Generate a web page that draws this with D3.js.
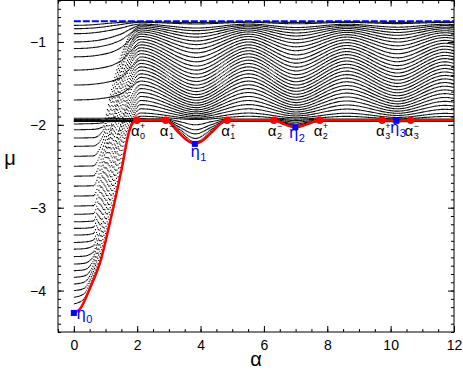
<!DOCTYPE html>
<meta charset="utf-8">
<style>
body { margin: 0; }
svg { font-family: "Liberation Sans", Arial, sans-serif; }
.curve { fill: none; stroke: #000; stroke-width: 1.1; }
.axis text { font-size: 14px; fill: #000; }
.axis line { stroke: #000; }
</style>
<script src="https://d3js.org/d3.v7.min.js"></script>
<svg width="463" height="382"></svg>
<script>

// ---- data ----
var leftAlpha = [0, 0.3, 0.6, 0.9, 1.2, 1.5, 1.8];
var bandAlpha = [2.1, 3.85, 5.5, 7.0, 8.6, 10.2, 11.7, 12];

// curves that start above mu = -2 at alpha = 0
var upperLeft = [
  [-0.80, -0.798, -0.792, -0.782, -0.772, -0.764, -0.759],
  [-0.84, -0.838, -0.832, -0.820, -0.805, -0.788, -0.772],
  [-0.90, -0.898, -0.890, -0.875, -0.855, -0.830, -0.800],
  [-1.00, -0.997, -0.988, -0.970, -0.940, -0.900, -0.840],
  [-1.08, -1.077, -1.068, -1.050, -1.020, -0.970, -0.890],
  [-1.18, -1.177, -1.168, -1.150, -1.120, -1.060, -0.960],
  [-1.34, -1.337, -1.328, -1.310, -1.280, -1.220, -1.100],
  [-1.52, -1.518, -1.510, -1.495, -1.470, -1.420, -1.300],
  [-1.70, -1.698, -1.692, -1.680, -1.660, -1.620, -1.540]
];
var upperBand = [
  [-0.757, -0.767, -0.757, -0.765, -0.757, -0.765, -0.757, -0.758],
  [-0.763, -0.783, -0.763, -0.781, -0.764, -0.779, -0.765, -0.766],
  [-0.784, -0.832, -0.784, -0.826, -0.786, -0.822, -0.787, -0.790],
  [-0.798, -0.864, -0.798, -0.855, -0.800, -0.851, -0.802, -0.807],
  [-0.834, -0.942, -0.834, -0.928, -0.838, -0.920, -0.841, -0.848],
  [-0.879, -1.032, -0.879, -1.012, -0.884, -1.001, -0.889, -0.899],
  [-1.000, -1.240, -1.000, -1.208, -1.008, -1.192, -1.016, -1.032],
  [-1.181, -1.477, -1.181, -1.438, -1.191, -1.418, -1.201, -1.221],
  [-1.472, -1.736, -1.472, -1.700, -1.481, -1.683, -1.490, -1.507]
];

// curves that start below mu = -2 at alpha = 0
var lowerLeft = [
  [-1.99, -1.988, -1.985, -1.975, -1.535, -1.136, -0.895],
  [-2.06, -2.058, -2.055, -2.025, -1.602, -1.187, -0.939],
  [-2.16, -2.158, -2.155, -2.075, -1.673, -1.246, -0.992],
  [-2.26, -2.258, -2.255, -2.135, -1.741, -1.293, -1.023],
  [-2.38, -2.378, -2.375, -2.200, -1.813, -1.343, -1.060],
  [-2.50, -2.498, -2.495, -2.275, -1.892, -1.416, -1.130],
  [-2.62, -2.618, -2.615, -2.350, -1.955, -1.470, -1.170],
  [-2.74, -2.738, -2.735, -2.425, -1.980, -1.526, -1.212],
  [-2.86, -2.858, -2.855, -2.495, -2.010, -1.586, -1.254],
  [-2.98, -2.978, -2.975, -2.570, -2.045, -1.663, -1.331],
  [-3.08, -3.078, -3.070, -2.635, -2.105, -1.726, -1.377],
  [-3.17, -3.168, -3.160, -2.700, -2.165, -1.792, -1.424],
  [-3.25, -3.248, -3.235, -2.775, -2.235, -1.860, -1.472],
  [-3.33, -3.328, -3.310, -2.845, -2.315, -1.945, -1.522],
  [-3.42, -3.415, -3.390, -2.915, -2.390, -1.965, -1.573],
  [-3.50, -3.495, -3.460, -2.985, -2.460, -1.995, -1.656],
  [-3.59, -3.585, -3.535, -3.050, -2.530, -2.025, -1.708],
  [-3.68, -3.672, -3.590, -3.120, -2.600, -2.075, -1.761],
  [-3.76, -3.750, -3.640, -3.190, -2.670, -2.135, -1.814],
  [-3.84, -3.825, -3.690, -3.255, -2.740, -2.200, -1.867],
  [-3.92, -3.900, -3.730, -3.320, -2.810, -2.275, -1.916],
  [-4.00, -3.975, -3.770, -3.385, -2.880, -2.350, -1.955],
  [-4.08, -4.040, -3.810, -3.450, -2.950, -2.425, -1.980],
  [-4.16, -4.100, -3.850, -3.510, -3.020, -2.495, -2.010]
];
var lowerBand = [
  [-0.816, -0.903, -0.816, -0.892, -0.819, -0.886, -0.822, -0.827],
  [-0.856, -0.988, -0.856, -0.970, -0.861, -0.961, -0.865, -0.874],
  [-0.906, -1.083, -0.906, -1.059, -0.912, -1.047, -0.918, -0.930],
  [-0.934, -1.132, -0.934, -1.106, -0.941, -1.092, -0.947, -0.960],
  [-0.967, -1.187, -0.967, -1.157, -0.974, -1.143, -0.981, -0.996],
  [-1.035, -1.291, -1.035, -1.256, -1.043, -1.239, -1.052, -1.069],
  [-1.070, -1.340, -1.070, -1.304, -1.079, -1.286, -1.088, -1.106],
  [-1.106, -1.388, -1.106, -1.350, -1.116, -1.331, -1.125, -1.144],
  [-1.143, -1.433, -1.143, -1.395, -1.153, -1.375, -1.163, -1.182],
  [-1.220, -1.520, -1.220, -1.480, -1.230, -1.460, -1.240, -1.260],
  [-1.260, -1.560, -1.260, -1.520, -1.270, -1.500, -1.280, -1.300],
  [-1.301, -1.599, -1.301, -1.559, -1.311, -1.539, -1.321, -1.340],
  [-1.342, -1.636, -1.342, -1.596, -1.352, -1.577, -1.362, -1.381],
  [-1.385, -1.671, -1.385, -1.632, -1.394, -1.613, -1.404, -1.423],
  [-1.428, -1.704, -1.428, -1.667, -1.437, -1.649, -1.446, -1.465],
  [-1.517, -1.765, -1.517, -1.732, -1.526, -1.716, -1.534, -1.550],
  [-1.563, -1.793, -1.563, -1.763, -1.571, -1.747, -1.579, -1.594],
  [-1.610, -1.820, -1.610, -1.792, -1.617, -1.778, -1.624, -1.638],
  [-1.658, -1.844, -1.658, -1.819, -1.664, -1.807, -1.670, -1.683],
  [-1.707, -1.867, -1.707, -1.845, -1.712, -1.835, -1.717, -1.728],
  [-1.756, -1.888, -1.756, -1.870, -1.761, -1.861, -1.765, -1.774],
  [-1.807, -1.907, -1.807, -1.893, -1.810, -1.887, -1.813, -1.820],
  [-1.858, -1.924, -1.858, -1.915, -1.860, -1.911, -1.862, -1.867],
  [-1.897, -1.936, -1.897, -1.931, -1.898, -1.928, -1.900, -1.902]
];

// curves lying on mu ~ -1.95 that sink into the gaps
var dipAlpha = [0, 2.0, 2.9, 3.3, 3.82, 4.35, 4.84, 6.31, 6.65, 6.99, 7.35, 7.76, 9.73, 10.18, 10.63, 12];
var dipRows = [
  [-1.920, -1.925, -1.930, -1.960, -2.000, -1.960, -1.930, -1.930, -1.940, -1.950, -1.940, -1.930, -1.930, -1.935, -1.930, -1.930],
  [-1.935, -1.940, -1.940, -1.995, -2.060, -1.995, -1.940, -1.940, -1.955, -1.970, -1.955, -1.940, -1.940, -1.945, -1.940, -1.940],
  [-1.950, -1.950, -1.950, -2.025, -2.110, -2.025, -1.950, -1.950, -1.970, -1.990, -1.970, -1.950, -1.950, -1.955, -1.950, -1.950],
  [-1.955, -1.955, -1.955, -2.050, -2.165, -2.050, -1.955, -1.955, -1.980, -2.005, -1.980, -1.955, -1.955, -1.960, -1.955, -1.955],
  [-1.960, -1.960, -1.960, -2.070, -2.210, -2.070, -1.960, -1.960, -1.990, -2.020, -1.990, -1.960, -1.960, -1.965, -1.960, -1.960]
];

// lower edge (red)
var redAlpha = [0, 0.2, 0.5, 0.86, 1.15, 1.5, 1.76, 1.9, 2.0, 2.9, 3.3, 3.55, 3.82, 4.1, 4.35, 4.84,
                6.31, 6.65, 6.99, 7.35, 7.76, 9.73, 10.18, 10.63, 12];
var redMu = [-4.27, -4.22, -3.98, -3.62, -3.16, -2.55, -2.06, -1.96, -1.945, -1.945, -2.09, -2.18, -2.23, -2.18, -2.09, -1.945,
             -1.945, -1.995, -2.03, -1.995, -1.945, -1.945, -1.952, -1.945, -1.945];

// upper edge (blue)
var topAlpha = [0, 12];
var topMu = [-0.75, -0.75];

// marked points
var alphaPts = [1.99, 2.9, 4.84, 6.31, 7.76, 9.73, 10.63];
var alphaPtMu = [-1.945, -1.945, -1.945, -1.945, -1.945, -1.945, -1.945];
var alphaSub = ["0", "1", "1", "2", "2", "3", "3"];
var alphaSup = ["+", "\u2212", "+", "\u2212", "+", "+", "\u2212"];

var etaAlpha = [0, 3.82, 6.99, 10.18];
var etaMu = [-4.27, -2.23, -2.03, -1.952];
var etaSub = ["0", "1", "2", "3"];

var xTicks = [0, 2, 4, 6, 8, 10, 12];
var yTicks = [-1, -2, -3, -4];

// ---- layout ----
var svg = d3.select("svg"),
    mLeft = 58, mRight = 454, mTop = 0.5, mBottom = 332;

var x = d3.scaleLinear().domain([-0.5, 12]).range([mLeft, mRight]),
    y = d3.scaleLinear().domain([-4.5, -0.5]).range([mBottom, mTop]);

svg.append("defs").append("clipPath").attr("id", "clip")
  .append("rect").attr("x", mLeft).attr("y", mTop).attr("width", mRight - mLeft).attr("height", mBottom - mTop);

var line = d3.line()
    .x(function(d) { return x(d[0]); })
    .y(function(d) { return y(d[1]); })
    .curve(d3.curveMonotoneX);

function joinRows(la, lv, ba, bv) {
  return la.map(function(a, j) { return [a, lv[j]]; })
    .concat(ba.map(function(a, j) { return [a, bv[j]]; }));
}

var curves = [];
upperLeft.forEach(function(r, i) { curves.push(joinRows(leftAlpha, r, bandAlpha, upperBand[i])); });
lowerLeft.forEach(function(r, i) { curves.push(joinRows(leftAlpha, r, bandAlpha, lowerBand[i])); });
dipRows.forEach(function(r) { curves.push(dipAlpha.map(function(a, j) { return [a, r[j]]; })); });

var plot = svg.append("g").attr("clip-path", "url(#clip)");

// each curve is drawn as the original does: one dot per pixel column along alpha,
// so steep stretches come out as sparse dots
plot.selectAll(".curve")
  .data(curves)
  .enter().append("path")
    .attr("class", "curve")
    .attr("d", line)
    .each(function() {
      var L = this.getTotalLength(), d = "", nextX = -1;
      for (var s = 0; s <= L; s += 0.4) {
        var p = this.getPointAtLength(s);
        if (p.x >= nextX) {
          d += "M" + p.x.toFixed(2) + "," + p.y.toFixed(2) + "h1.1";
          nextX = p.x + 1;
        }
      }
      d3.select(this).attr("d", d);
    });

plot.append("path")
    .datum(redAlpha.map(function(a, i) { return [a, redMu[i]]; }))
    .attr("fill", "none")
    .attr("stroke", "#ff0000")
    .attr("stroke-width", 2.5)
    .attr("d", line);

plot.append("path")
    .datum(topAlpha.map(function(a, i) { return [a, topMu[i]]; }))
    .attr("fill", "none")
    .attr("stroke", "#0000ff")
    .attr("stroke-width", 2)
    .attr("stroke-dasharray", "7,2")
    .attr("d", d3.line().x(function(d) { return x(d[0]); }).y(function(d) { return y(d[1]); }));

plot.selectAll(".adot")
  .data(alphaPts)
  .enter().append("circle")
    .attr("class", "adot")
    .attr("cx", function(d) { return x(d); })
    .attr("cy", function(d, i) { return y(alphaPtMu[i]); })
    .attr("r", 3.8)
    .attr("fill", "#ff0000");

plot.selectAll(".eta")
  .data(etaAlpha)
  .enter().append("rect")
    .attr("class", "eta")
    .attr("x", function(d) { return x(d) - 3; })
    .attr("y", function(d, i) { return y(etaMu[i]) - 3; })
    .attr("width", 6)
    .attr("height", 6)
    .attr("fill", "#0000ff");

// labels
var alab = svg.selectAll(".alab")
  .data(alphaPts)
  .enter().append("text")
    .attr("class", "alab")
    .attr("x", function(d) { return x(d) - 6; })
    .attr("y", function(d, i) { return y(alphaPtMu[i]) + 16; })
    .attr("font-size", 15)
    .text("\u03b1");
alab.append("tspan").attr("font-size", 9).attr("dx", 0.5).attr("dy", 3)
    .text(function(d, i) { return alphaSub[i]; });
alab.append("tspan").attr("font-size", 9).attr("dx", -5).attr("dy", -10)
    .text(function(d, i) { return alphaSup[i]; });

var etaOff = [[3, 6.5], [-4, 13], [-6, 10.5], [-6, 12]];
var elab = svg.selectAll(".elab")
  .data(etaAlpha)
  .enter().append("text")
    .attr("class", "elab")
    .attr("x", function(d, i) { return x(d) + etaOff[i][0]; })
    .attr("y", function(d, i) { return y(etaMu[i]) + etaOff[i][1]; })
    .attr("font-size", 16)
    .attr("fill", "#0000ff")
    .text("\u03b7");
elab.append("tspan").attr("font-size", 11).attr("dx", 0.5).attr("dy", 4)
    .text(function(d, i) { return etaSub[i]; });

// axes, ticks pointing inward on all sides
function addAxis(axis, tx, ty, labels) {
  var g = svg.append("g").attr("class", "axis")
      .attr("transform", "translate(" + tx + "," + ty + ")")
      .call(axis);
  g.select(".domain").remove();
  if (!labels) g.selectAll("text").remove();
  return g;
}

var fmt = d3.format("d");
var xMinor = d3.range(-0.5, 12.01, 0.5),
    yMinor = d3.range(-4.5, -0.49, 0.1);
addAxis(d3.axisBottom(x).tickValues(xMinor).tickSize(-3).tickSizeOuter(0), 0, mBottom, false);
addAxis(d3.axisBottom(x).tickValues(xTicks).tickSize(-6).tickSizeOuter(0).tickPadding(8).tickFormat(fmt), 0, mBottom, true);
addAxis(d3.axisTop(x).tickValues(xMinor).tickSize(-3).tickSizeOuter(0), 0, mTop, false);
addAxis(d3.axisTop(x).tickValues(xTicks).tickSize(-6).tickSizeOuter(0), 0, mTop, false);

addAxis(d3.axisLeft(y).tickValues(yMinor).tickSize(-3).tickSizeOuter(0), mLeft, 0, false);
addAxis(d3.axisLeft(y).tickValues(yTicks).tickSize(-6).tickSizeOuter(0).tickPadding(12).tickFormat(fmt), mLeft, 0, true);
addAxis(d3.axisRight(y).tickValues(yMinor).tickSize(-3).tickSizeOuter(0), mRight, 0, false);
addAxis(d3.axisRight(y).tickValues(yTicks).tickSize(-6).tickSizeOuter(0), mRight, 0, false);

svg.append("rect")
    .attr("x", mLeft).attr("y", mTop)
    .attr("width", mRight - mLeft).attr("height", mBottom - mTop)
    .attr("fill", "none").attr("stroke", "#000").attr("stroke-width", 1);

svg.append("text")
    .attr("x", (mLeft + mRight) / 2).attr("y", 366)
    .attr("text-anchor", "middle").attr("font-size", 20)
    .text("\u03b1");

svg.append("text")
    .attr("x", 10).attr("y", 165)
    .attr("text-anchor", "middle").attr("font-size", 20)
    .text("\u03bc");

</script>
